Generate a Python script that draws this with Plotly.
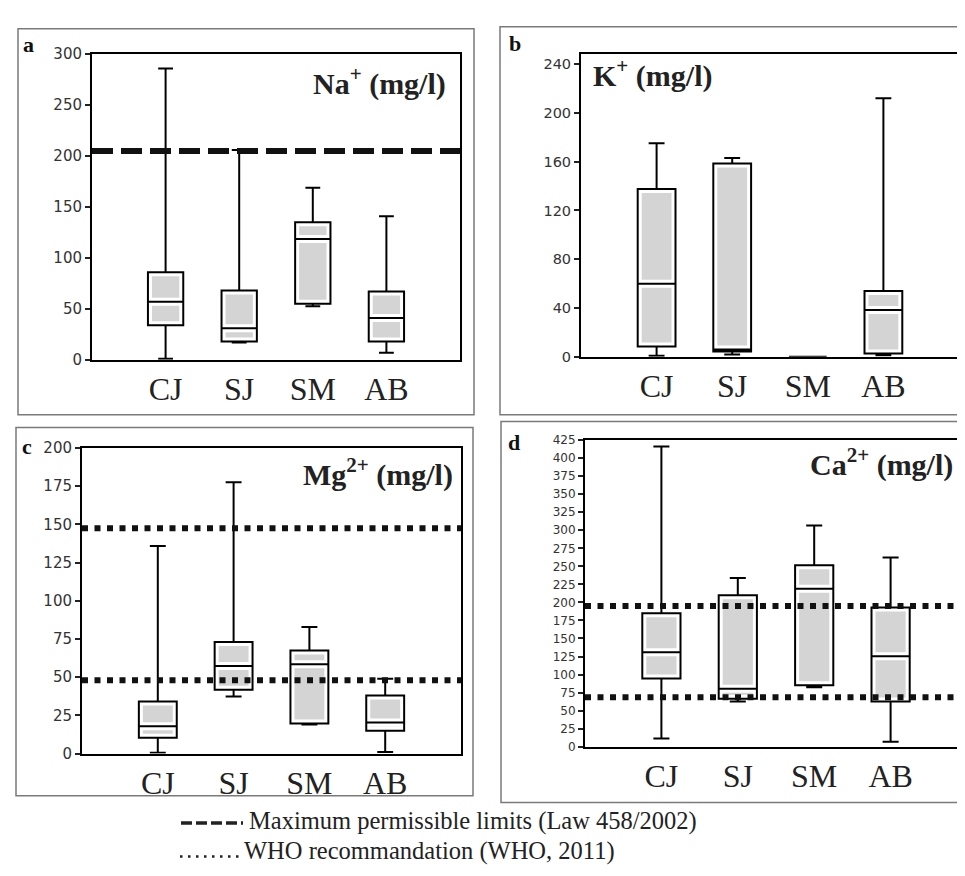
import plotly.graph_objects as go

W, H = 965, 876

cats = ["CJ", "SJ", "SM", "AB"]

# Na+ (mg/l)
na_low = [1, 17, 52.5, 7]
na_q1 = [34, 18, 55, 18]
na_med = [57, 31, 118.6, 41]
na_q3 = [86, 68, 135, 67]
na_high = [286, 206, 169, 141]

# K+ (mg/l)
k_low = [1, 2, 0, 1.3]
k_q1 = [8.6, 4.5, 0, 2.7]
k_med = [60, 6, 0, 38.4]
k_q3 = [137.5, 158.5, 0, 54]
k_high = [175, 163, 0, 212]

# Mg2+ (mg/l)
mg_low = [0.6, 37.4, 19, 1]
mg_q1 = [10.3, 41.7, 19.7, 15]
mg_med = [17.8, 57.3, 58.4, 20.3]
mg_q3 = [34, 73, 67.4, 38]
mg_high = [135.8, 177.5, 82.8, 49]

# Ca2+ (mg/l)
ca_low = [11.3, 62.5, 82.5, 6.8]
ca_q1 = [94.7, 66.6, 85.2, 62.5]
ca_med = [131, 80.2, 218.8, 125.5]
ca_q3 = [185, 209.8, 251.5, 193]
ca_high = [416, 233.8, 306.7, 262.3]

# Reference limits
na_law_limit = [205]
mg_who_limits = [147.5, 48]
ca_who_limits = [195, 68.5]

na_ticks = [0, 50, 100, 150, 200, 250, 300]
k_ticks = [0, 40, 80, 120, 160, 200, 240]
mg_ticks = [0, 25, 50, 75, 100, 125, 150, 175, 200]
ca_ticks = list(range(0, 426, 25))

legend_law = "Maximum permissible limits (Law 458/2002)"
legend_who = "WHO recommandation (WHO, 2011)"


def px_x(p):
    return p / W


def px_y(p):
    return 1 - p / H


fig = go.Figure()

panels = [
    ("x", "y", (na_low, na_q1, na_med, na_q3, na_high), (84, 38, 452, 350), [0, 300], na_ticks, 15, 0.48),
    ("x2", "y2", (k_low, k_q1, k_med, k_q3, k_high), (573, 38, 951, 347), [0, 248], k_ticks, 14.5, 0.5),
    ("x3", "y3", (mg_low, mg_q1, mg_med, mg_q3, mg_high), (74, 440, 453, 752), [0, 200], mg_ticks, 15, 0.5),
    ("x4", "y4", (ca_low, ca_q1, ca_med, ca_q3, ca_high), (577, 432, 959, 745), [0, 425], ca_ticks, 12, 0.5),
]

layout_axes = {}
for i, (xa, ya, d, box, yr, ticks, tfs, bw) in enumerate(panels):
    low, q1, med, q3, high = d
    common = dict(x=cats, lowerfence=low, q1=q1, median=med, q3=q3, upperfence=high,
                  xaxis=xa, yaxis=ya, width=bw, whiskerwidth=0.42,
                  boxpoints=False, showlegend=False, hoverinfo="skip")
    fig.add_trace(go.Box(**common, fillcolor="#d4d4d4", line=dict(color="white", width=8)))
    fig.add_trace(go.Box(**common, fillcolor="rgba(0,0,0,0)", line=dict(color="black", width=2)))
    x0, y0, x1, y1 = box
    n = "" if i == 0 else str(i + 1)
    layout_axes["xaxis" + n] = dict(
        domain=[px_x(x0), px_x(x1)], anchor=ya, type="category",
        categoryorder="array", categoryarray=cats, range=[-1, 4],
        showline=True, linecolor="black", linewidth=2, mirror=True,
        ticks="", showgrid=False, zeroline=False,
        tickfont=dict(family="Liberation Serif", size=32, color="#222"),
    )
    layout_axes["yaxis" + n] = dict(
        domain=[px_y(y1), px_y(y0)], anchor=xa, range=yr,
        tickvals=ticks, ticktext=[str(t) for t in ticks],
        showline=True, linecolor="black", linewidth=2, mirror=True,
        ticks="outside", ticklen=5, tickwidth=1.5, tickcolor="#222",
        showgrid=False, zeroline=False,
        tickfont=dict(family="DejaVu Sans", size=tfs, color="#333"),
    )

fig.update_layout(**layout_axes)

# limit lines
for v in na_law_limit:
    fig.add_shape(type="line", xref="x domain", yref="y", x0=0, x1=1, y0=v, y1=v,
                  line=dict(color="#111", width=6, dash="21px,8px"), layer="above")
for v in mg_who_limits:
    fig.add_shape(type="line", xref="x3 domain", yref="y3", x0=0, x1=1, y0=v, y1=v,
                  line=dict(color="#111", width=6, dash="6px,6.5px"), layer="above")
for v in ca_who_limits:
    fig.add_shape(type="line", xref="x4 domain", yref="y4", x0=0, x1=1, y0=v, y1=v,
                  line=dict(color="#111", width=6, dash="6px,6.5px"), layer="above")

# outer panel frames
frames = [(10, 12, 466, 406), (492, 10, 975, 406), (8, 419, 465, 795), (493, 413, 975, 802)]
for (a, b, c, d) in frames:
    fig.add_shape(type="rect", xref="paper", yref="paper",
                  x0=px_x(a), x1=px_x(c), y0=px_y(d), y1=px_y(b),
                  line=dict(color="#7a7a7a", width=1.5), fillcolor="rgba(0,0,0,0)", layer="below")

ann = []
serif_b = dict(family="Liberation Serif", size=30, color="#222")
titles = [
    ("<b>Na<sup>+</sup> (mg/l)</b>", 440, 66, "right"),
    ("<b>K<sup>+</sup> (mg/l)</b>", 583, 58, "left"),
    ("<b>Mg<sup>2+</sup> (mg/l)</b>", 447, 465, "right"),
    ("<b>Ca<sup>2+</sup> (mg/l)</b>", 947, 455, "right"),
]
for t, x, y, xa in titles:
    ann.append(dict(text=t, x=px_x(x), y=px_y(y), xref="paper", yref="paper",
                    xanchor=xa, yanchor="middle", showarrow=False, font=serif_b))

letters = [("a", 20, 28), ("b", 507, 27), ("c", 19, 439), ("d", 506, 434)]
for t, x, y in letters:
    ann.append(dict(text="<b>" + t + "</b>", x=px_x(x), y=px_y(y), xref="paper", yref="paper",
                    xanchor="center", yanchor="middle", showarrow=False,
                    font=dict(family="Liberation Serif", size=22, color="#111")))

leg_font = dict(family="Liberation Serif", size=24.5, color="#222")
ann.append(dict(text=legend_law, x=px_x(239), y=px_y(821), xref="paper", yref="paper",
                xanchor="left", yanchor="middle", showarrow=False, font=leg_font))
ann.append(dict(text=legend_who, x=px_x(234), y=px_y(852), xref="paper", yref="paper",
                xanchor="left", yanchor="middle", showarrow=False, font=leg_font))
fig.add_shape(type="line", xref="paper", yref="paper", x0=px_x(173), x1=px_x(235),
              y0=px_y(823), y1=px_y(823), line=dict(color="#222", width=3.5, dash="11px,4px"))
fig.add_shape(type="line", xref="paper", yref="paper", x0=px_x(172), x1=px_x(233),
              y0=px_y(857), y1=px_y(857), line=dict(color="#222", width=2.5, dash="2.5px,5.5px"))

fig.update_layout(
    width=W, height=H, margin=dict(l=0, r=0, t=0, b=0),
    paper_bgcolor="white", plot_bgcolor="white",
    boxmode="overlay", annotations=ann, showlegend=False,
)

fig.write_html("out.html")
